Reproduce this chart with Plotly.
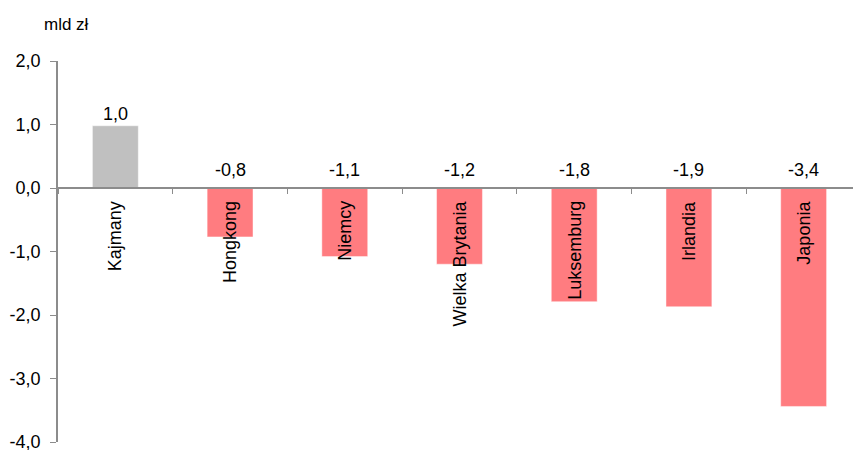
import plotly.graph_objects as go

categories = ["Kajmany", "Hongkong", "Niemcy", "Wielka Brytania", "Luksemburg", "Irlandia", "Japonia"]
values = [0.98, -0.77, -1.08, -1.20, -1.79, -1.87, -3.44]
colors = ["#C0C0C0", "#FF7C80", "#FF7C80", "#FF7C80", "#FF7C80", "#FF7C80", "#FF7C80"]
y_ticks = [2, 1, 0, -1, -2, -3, -4]
y_tick_labels = ["2,0", "1,0", "0,0", "-1,0", "-2,0", "-3,0", "-4,0"]
unit_label = "mld zł"

FONT = "Liberation Sans, Arial, sans-serif"
AXIS = "#8C8C8C"
FS = 18

fig = go.Figure()
fig.add_trace(go.Bar(
    x=categories, y=values, width=0.4,
    marker=dict(color=colors, line=dict(color="rgba(255,255,255,0.45)", width=1)),
    hoverinfo="skip",
))

annotations = []
for c, v in zip(categories, values):
    txt = f"{v:.1f}".replace(".", ",")
    annotations.append(dict(
        x=c, y=max(v, 0), xref="x", yref="y", text=txt, showarrow=False,
        yanchor="bottom", xanchor="center", yshift=0 if v > 0 else 6,
        font=dict(family=FONT, size=FS, color="#000000"),
    ))
    annotations.append(dict(
        x=c, y=0, xref="x", yref="y", text=c, showarrow=False, textangle=-90,
        yanchor="top", xanchor="center", yshift=-11,
        font=dict(family=FONT, size=FS, color="#000000"),
    ))
annotations.append(dict(
    x=-16 / 803, y=1 + (61 - 24) / 381, xref="paper", yref="paper", text=unit_label,
    showarrow=False, xanchor="left", yanchor="middle",
    font=dict(family=FONT, size=17, color="#000000"),
))

fig.update_layout(
    width=853, height=442,
    margin=dict(l=50, r=0, t=53, b=8, autoexpand=False),
    plot_bgcolor="white", paper_bgcolor="white",
    showlegend=False,
    font=dict(family=FONT, size=FS, color="#000000"),
    annotations=annotations,
    xaxis=dict(
        type="category", anchor="free", position=4/6, automargin=False,
        showline=True, linecolor=AXIS, linewidth=1.5,
        ticks="outside", tickson="boundaries", ticklen=5, tickcolor=AXIS, tickwidth=1,
        showticklabels=False, showgrid=False, zeroline=False,
        range=[-0.5, 6.5], fixedrange=True,
    ),
    yaxis=dict(
        range=[-4, 2], tickvals=y_ticks, ticktext=y_tick_labels, automargin=False,
        showline=True, linecolor=AXIS, linewidth=1.5,
        ticks="outside", ticklen=6, tickcolor=AXIS, tickwidth=1,
        ticklabelstandoff=6, ticklabeloverflow="allow",
        showgrid=False, zeroline=False,
        tickfont=dict(family=FONT, size=FS, color="#000000"),
    ),
)

fig.write_html("out.html")
